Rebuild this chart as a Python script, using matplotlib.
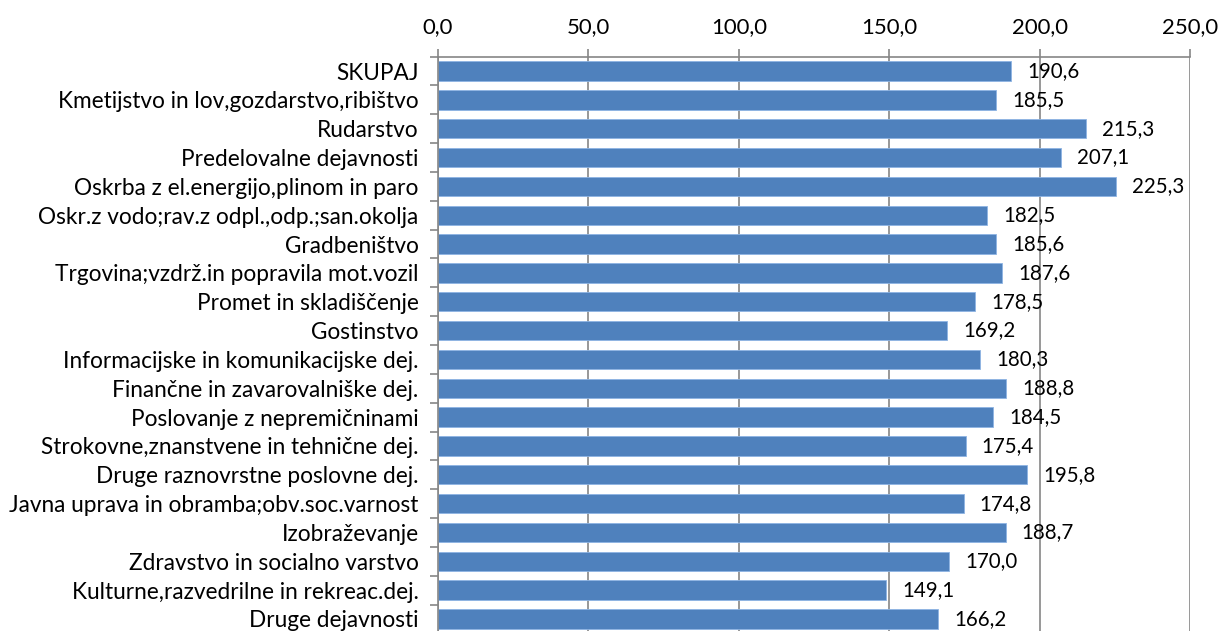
import matplotlib.pyplot as plt
import numpy as np

categories = [
    "SKUPAJ",
    "Kmetijstvo in lov,gozdarstvo,ribištvo",
    "Rudarstvo",
    "Predelovalne dejavnosti",
    "Oskrba z el.energijo,plinom in paro",
    "Oskr.z vodo;rav.z odpl.,odp.;san.okolja",
    "Gradbeništvo",
    "Trgovina;vzdrž.in popravila mot.vozil",
    "Promet in skladiščenje",
    "Gostinstvo",
    "Informacijske in komunikacijske dej.",
    "Finančne in zavarovalniške dej.",
    "Poslovanje z nepremičninami",
    "Strokovne,znanstvene in tehnične dej.",
    "Druge raznovrstne poslovne dej.",
    "Javna uprava in obramba;obv.soc.varnost",
    "Izobraževanje",
    "Zdravstvo in socialno varstvo",
    "Kulturne,razvedrilne in rekreac.dej.",
    "Druge dejavnosti",
]
values = [190.6, 185.5, 215.3, 207.1, 225.3, 182.5, 185.6, 187.6, 178.5, 169.2,
          180.3, 188.8, 184.5, 175.4, 195.8, 174.8, 188.7, 170.0, 149.1, 166.2]
x_ticks = [0, 50, 100, 150, 200, 250]

plt.rcParams['font.family'] = ['Lato', 'DejaVu Sans']

fig = plt.figure(figsize=(12.2, 6.31), dpi=100)
W, H = 1220, 631
left, right, top, bottom = 438, 1190, 56.6, 633.4
ax = fig.add_axes([left / W, (H - bottom) / H, (right - left) / W, (bottom - top) / H])

grid_color = '#868686'
y = np.arange(len(categories))
bars = ax.barh(y, values, height=0.67, color='#4F81BD', edgecolor='#8EB4E3', linewidth=0.6, zorder=2)

ax.set_xlim(0, 250)
ax.set_ylim(len(categories) - 0.5, -0.5)

# value labels
for i, v in enumerate(values):
    ax.annotate(f"{v:.1f}".replace('.', ','), xy=(v, i), xytext=(11.5, 0),
                textcoords='offset points', va='center', ha='left', fontsize=14.8, zorder=3)

# x axis on top with comma decimals
ax.xaxis.tick_top()
ax.set_xticks(x_ticks)
ax.set_xticklabels([f"{t:.1f}".replace('.', ',') for t in x_ticks], fontsize=15.9)
ax.tick_params(axis='x', direction='out', length=6, width=1.2, color=grid_color, pad=8)
ax.grid(axis='x', color=grid_color, linewidth=1.2, zorder=1)

# category labels, ticks between categories
ax.set_yticks(y)
ax.set_yticklabels(categories, fontsize=16.3)
ax.tick_params(axis='y', length=0, pad=14)
ax.set_yticks(np.arange(len(categories) + 1) - 0.5, minor=True)
ax.tick_params(axis='y', which='minor', direction='out', length=6, width=1.2, color=grid_color)

for s in ['right', 'bottom']:
    ax.spines[s].set_visible(False)
for s in ['top', 'left']:
    ax.spines[s].set_color(grid_color)
    ax.spines[s].set_linewidth(1.2)

fig.savefig('out.png', dpi=100)
